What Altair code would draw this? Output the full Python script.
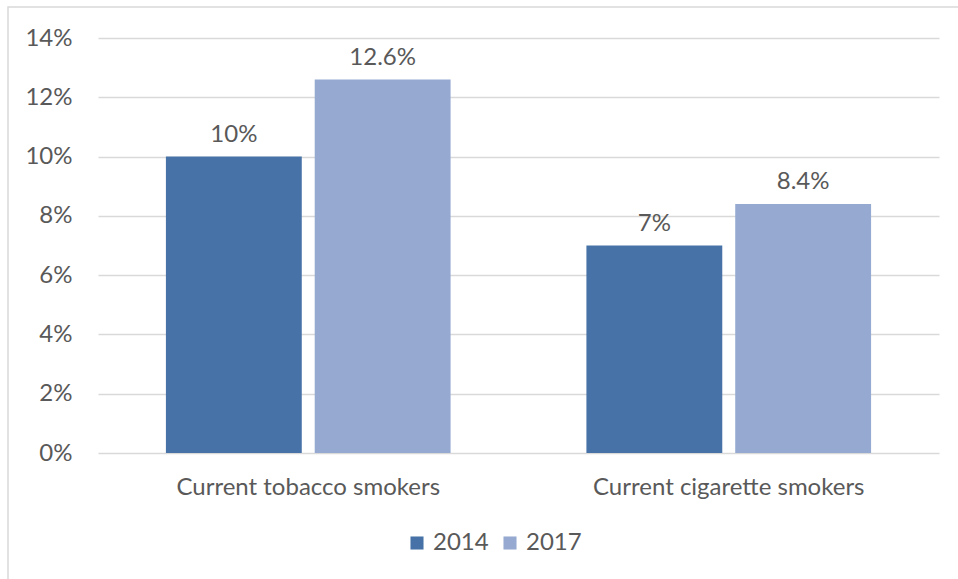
import altair as alt
import pandas as pd

categories = ["Current tobacco smokers", "Current tobacco smokers", "Current cigarette smokers", "Current cigarette smokers"]
years = ["2014", "2017", "2014", "2017"]
values = [0.10, 0.126, 0.07, 0.084]
labels = ["10%", "12.6%", "7%", "8.4%"]

df = pd.DataFrame({"cat": categories, "year": years, "value": values, "label": labels})
cat_order = ["Current tobacco smokers", "Current cigarette smokers"]
FONT = "Lato"
TXT = "#595959"
FS = 24

base = alt.Chart(df).encode(
    x=alt.X("cat:N", sort=cat_order, title=None,
            scale=alt.Scale(paddingInner=0.323, paddingOuter=0.1615),
            axis=alt.Axis(labelAngle=0, ticks=False, domain=False, labelPadding=22, labelLimit=0,
                          labelFontSize=FS, labelColor=TXT, labelFont=FONT)),
    xOffset=alt.XOffset("year:N", scale=alt.Scale(paddingInner=0.087, paddingOuter=0)),
    y=alt.Y("value:Q", title=None,
            scale=alt.Scale(domain=[0, 0.14], nice=False),
            axis=alt.Axis(format=".0%", values=[0, 0.02, 0.04, 0.06, 0.08, 0.10, 0.12, 0.14],
                          ticks=False, domain=False, labelPadding=26, labelFontSize=FS,
                          labelColor=TXT, labelFont=FONT, gridColor="#d9d9d9", gridWidth=1.5)),
)

bars = base.mark_bar().encode(
    color=alt.Color("year:N", title=None,
                    scale=alt.Scale(domain=["2014", "2017"], range=["#4672A7", "#95A9D1"]),
                    legend=alt.Legend(orient="none", direction="horizontal", legendX=307, legendY=493,
                                      symbolType="square", symbolSize=170, symbolStrokeWidth=0,
                                      labelFontSize=FS, labelColor=TXT, labelFont=FONT,
                                      columnPadding=9, symbolOffset=0)),
)

text = base.mark_text(baseline="bottom", dy=-10, fontSize=FS, color=TXT, font=FONT).encode(
    text="label:N",
)

border = alt.Chart(pd.DataFrame({"a": [0]})).mark_rect(
    fill=None, stroke="#d9d9d9", strokeWidth=1.5, clip=False
).encode(x=alt.value(-90), x2=alt.value(880), y=alt.value(-31), y2=alt.value(560))

chart = alt.layer(border, bars, text).properties(
    width=841, height=415,
    autosize=alt.AutoSizeParams(type="none"),
    padding={"left": 98, "top": 38, "right": 19, "bottom": 126},
    background="white",
).configure_view(stroke=None)

chart.save("out.html", embed_options={"renderer": "svg", "actions": False})
